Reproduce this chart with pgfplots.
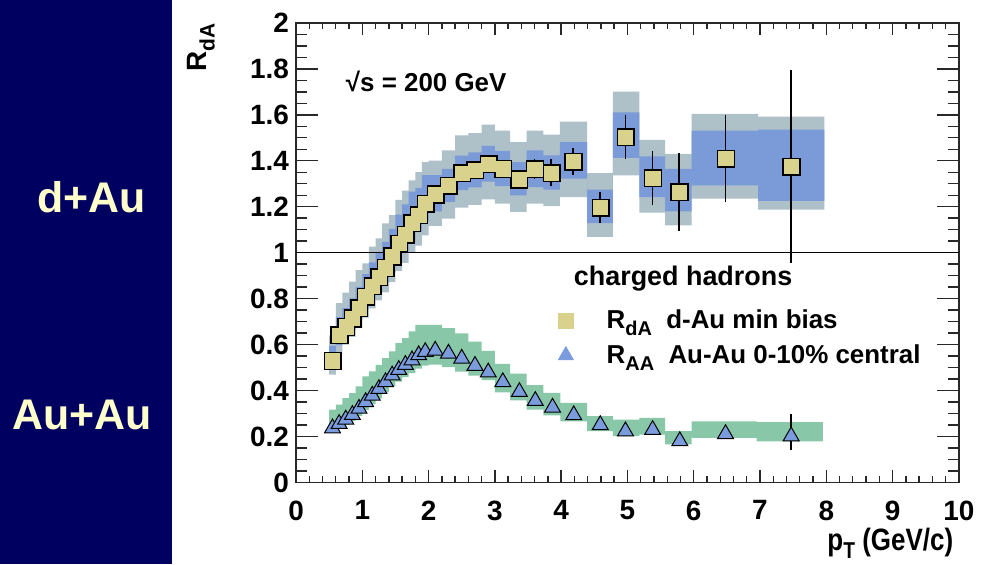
\documentclass[border=0pt]{standalone}
\usepackage{fontspec}
\setmainfont{Liberation Sans}
\usepackage{pgfplots}
\pgfplotsset{compat=1.18}
\usepackage{pgfplotstable}
\usepgfplotslibrary{fillbetween}

\definecolor{navy}{RGB}{0,0,96}
\definecolor{paleyel}{RGB}{255,255,204}
\definecolor{khaki}{RGB}{217,210,140}
\definecolor{bandblue}{RGB}{122,155,215}
\definecolor{bandgrey}{RGB}{174,192,200}
\definecolor{bandgreen}{RGB}{136,200,168}
\definecolor{triblue}{RGB}{122,155,220}
\definecolor{axgrey}{RGB}{40,40,40}

% d-Au systematic bands: left bin edge, outer hi/lo, inner hi/lo (last row = right edge)
\pgfplotstableread{
x    ohi    olo    ihi    ilo
0.50 0.640 0.469 0.594 0.493
0.60 0.780 0.568 0.719 0.597
0.70 0.826 0.600 0.759 0.631
0.80 0.874 0.633 0.801 0.665
0.90 0.924 0.673 0.851 0.707
1.00 0.953 0.717 0.907 0.753
1.10 1.026 0.757 0.958 0.795
1.20 1.062 0.792 1.002 0.832
1.30 1.127 0.827 1.047 0.870
1.40 1.163 0.872 1.103 0.916
1.50 1.230 0.920 1.165 0.967
1.60 1.270 0.956 1.210 1.004
1.70 1.315 1.000 1.266 1.051
1.80 1.351 1.031 1.282 1.089
1.90 1.394 1.075 1.337 1.136
2.00 1.401 1.117 1.337 1.180
2.20 1.445 1.148 1.365 1.221
2.40 1.510 1.196 1.422 1.272
2.60 1.520 1.208 1.436 1.284
2.80 1.557 1.232 1.465 1.309
3.00 1.531 1.213 1.443 1.290
3.23 1.481 1.177 1.394 1.249
3.48 1.531 1.213 1.445 1.285
3.73 1.514 1.202 1.423 1.274
3.98 1.570 1.242 1.481 1.322
4.39 1.346 1.069 1.274 1.129
4.78 1.701 1.336 1.611 1.413
5.18 1.491 1.174 1.419 1.242
5.57 1.430 1.119 1.365 1.180
5.97 1.604 1.235 1.531 1.293
6.97 1.592 1.187 1.536 1.225
7.97 1.592 1.187 1.536 1.225
}\dAband

% d-Au points
\pgfplotstableread{
x    y     ey
0.55 0.530 0
0.65 0.642 0
0.75 0.678 0
0.85 0.715 0
0.95 0.760 0
1.05 0.810 0
1.15 0.855 0
1.25 0.895 0
1.35 0.935 0
1.45 0.985 0
1.55 1.040 0
1.65 1.080 0
1.75 1.130 0
1.85 1.165 0
1.95 1.215 0
2.10 1.255 0
2.30 1.293 0
2.50 1.347 0
2.70 1.360 0
2.90 1.387 0
3.12 1.366 0
3.36 1.320 0
3.60 1.365 0.030
3.85 1.348 0.045
4.18 1.397 0.045
4.59 1.197 0.055
4.97 1.504 0.083
5.38 1.325 0.104
5.78 1.264 0.154
6.48 1.410 0.177
7.47 1.375 0.405
}\dApts

% Au-Au systematic band: left bin edge, hi, lo (last row = right edge)
\pgfplotstableread{
x    hi    lo
0.50 0.317 0.216
0.60 0.338 0.232
0.70 0.367 0.249
0.80 0.389 0.267
0.90 0.418 0.290
1.00 0.461 0.316
1.10 0.483 0.341
1.20 0.512 0.366
1.30 0.541 0.392
1.40 0.570 0.418
1.50 0.606 0.439
1.60 0.628 0.458
1.70 0.657 0.476
1.80 0.686 0.495
1.90 0.686 0.508
2.00 0.686 0.513
2.20 0.671 0.502
2.40 0.649 0.482
2.60 0.613 0.465
2.80 0.573 0.445
3.00 0.516 0.392
3.23 0.474 0.357
3.48 0.423 0.317
3.73 0.390 0.292
3.99 0.346 0.266
4.39 0.288 0.223
4.78 0.273 0.201
5.18 0.281 0.208
5.57 0.223 0.165
5.97 0.266 0.194
6.95 0.262 0.179
7.95 0.262 0.179
}\AAband

% Au-Au points
\pgfplotstableread{
x    y
0.55 0.236
0.65 0.255
0.75 0.274
0.85 0.294
0.95 0.321
1.05 0.350
1.15 0.378
1.25 0.407
1.35 0.437
1.45 0.466
1.55 0.490
1.65 0.512
1.75 0.532
1.85 0.554
1.95 0.568
2.10 0.574
2.30 0.561
2.50 0.539
2.70 0.508
2.90 0.479
3.12 0.437
3.37 0.394
3.61 0.355
3.87 0.326
4.19 0.293
4.59 0.250
4.97 0.223
5.38 0.229
5.79 0.180
6.48 0.211
7.47 0.201
}\AApts

\begin{document}
\begin{tikzpicture}
\path (0,0) rectangle (490.5pt,283pt);
\fill[navy] (0,0) rectangle (86.5pt,283pt);
\node[font=\fontsize{21.5}{21.5}\selectfont\bfseries, text=paleyel] at (46pt,184pt) {d+Au};
\node[font=\fontsize{21.5}{21.5}\selectfont\bfseries, text=paleyel] at (41pt,75pt) {Au+Au};
\begin{axis}[
  at={(148.5pt,41pt)}, anchor=south west,
  scale only axis, width=332.5pt, height=230.5pt,
  xmin=0, xmax=10, ymin=0, ymax=2,
  xtick={0,1,...,10}, ytick={0,0.2,...,2.01},
  minor x tick num=4, minor y tick num=3,
  tick align=inside,
  axis line style={line width=0.75pt, axgrey},
  every tick/.style={line width=0.7pt, axgrey},
  xtick style={/pgfplots/major tick length=6pt, /pgfplots/minor tick length=3pt},
  ytick style={/pgfplots/major tick length=11pt, /pgfplots/minor tick length=5.5pt},
  /pgf/number format/assume math mode=true,
  yticklabel style={font=\fontsize{14}{14}\selectfont\bfseries, /pgf/number format/fixed},
  xticklabel style={font=\fontsize{14}{14}\selectfont\bfseries, yshift=-5.6pt},
  xlabel={\scalebox{0.84}[1]{p\raisebox{-4pt}{\fontsize{11.5}{11.5}\selectfont T} (GeV/c)}},
  xlabel style={at={(axis description cs:0.992,-0.148)}, anchor=base east, inner sep=0pt, font=\fontsize{15.5}{15.5}\selectfont\bfseries},
  ylabel={R\raisebox{-4pt}{\fontsize{10.5}{10.5}\selectfont dA}},
  ylabel style={at={(axis description cs:-0.135,1.0)}, anchor=base east, inner sep=0pt, font=\fontsize{14}{14}\selectfont\bfseries},
  legend image code/.code={\draw[#1] plot coordinates {(0pt,0pt)}; \path[draw=none, fill=none] (-4pt,0pt) -- (19.5pt,0pt);},
  legend style={draw=none, fill=none, at={(axis cs:3.945,0.762)}, anchor=north west, inner sep=0pt,
    font=\fontsize{13}{13}\selectfont\bfseries, nodes={inner sep=1pt}, row sep=4.5pt},
  legend cell align=left,
]
% reference line
\addplot[forget plot, black, line width=0.5pt] coordinates {(0,1) (10,1)};

% d-Au outer band
\addplot[forget plot, draw=none, const plot, name path=dAoh] table[x=x, y=ohi] {\dAband};
\addplot[forget plot, draw=none, const plot, name path=dAol] table[x=x, y=olo] {\dAband};
\addplot[forget plot, bandgrey, draw=none] fill between[of=dAoh and dAol];
% d-Au inner band
\addplot[forget plot, draw=none, const plot, name path=dAih] table[x=x, y=ihi] {\dAband};
\addplot[forget plot, draw=none, const plot, name path=dAil] table[x=x, y=ilo] {\dAband};
\addplot[forget plot, bandblue, draw=none] fill between[of=dAih and dAil];
% Au-Au band
\addplot[forget plot, draw=none, const plot, name path=AAh] table[x=x, y=hi] {\AAband};
\addplot[forget plot, draw=none, const plot, name path=AAl] table[x=x, y=lo] {\AAband};
\addplot[forget plot, bandgreen, draw=none] fill between[of=AAh and AAl];

% d-Au error bars
\addplot[forget plot, draw=none, mark=none,
  error bars/.cd, y dir=both, y explicit,
  error bar style={draw=black, line width=0.8pt, solid},
  error mark options={draw=black, line width=0.8pt, mark size=1.6pt}]
  table[x=x, y=y, y error=ey] {\dApts};
% d-Au squares: black under-layer then khaki fill gives the union outline
\addplot[forget plot, only marks, mark=square*, mark size=4.3pt,
  mark options={fill=black, draw=black, line width=0.1pt}] table[x=x, y=y] {\dApts};
\addplot[forget plot, only marks, mark=square*, mark size=3.55pt,
  mark options={fill=khaki, draw=khaki, line width=0.1pt}] table[x=x, y=y] {\dApts};

% Au-Au error bar (last point)
\addplot[forget plot, draw=none, mark=none,
  error bars/.cd, y dir=both, y explicit,
  error bar style={draw=black, line width=0.8pt, solid},
  error mark options={draw=black, line width=0.8pt, mark size=1.6pt}]
  coordinates {(7.47,0.21) += (0,0.075) -= (0,0.055)};
% Au-Au triangles
\addplot[forget plot, only marks, mark=triangle*, mark size=4.6pt,
  mark options={fill=triblue, draw=black, line width=0.5pt}] table[x=x, y=y] {\AApts};

% legend
\addlegendimage{only marks, mark=square*, mark size=3.7pt, mark options={fill=khaki, draw=khaki}}
\addlegendentry{R\raisebox{-3.5pt}{\fontsize{10}{10}\selectfont dA}\hspace{0.55em}d-Au min bias}
\addlegendimage{only marks, mark=triangle*, mark size=4.3pt, mark options={fill=triblue, draw=triblue}}
\addlegendentry{R\raisebox{-3.5pt}{\fontsize{10}{10}\selectfont AA}\hspace{0.55em}Au-Au 0-10\% central}

\node[anchor=base, font=\fontsize{13.5}{13.5}\selectfont\bfseries] at (axis cs:5.84,0.856) {charged hadrons};
\node[anchor=base west, font=\fontsize{13}{13}\selectfont\bfseries] at (axis cs:0.647,1.702) {√s = 200 GeV};
\end{axis}
\end{tikzpicture}
\end{document}
